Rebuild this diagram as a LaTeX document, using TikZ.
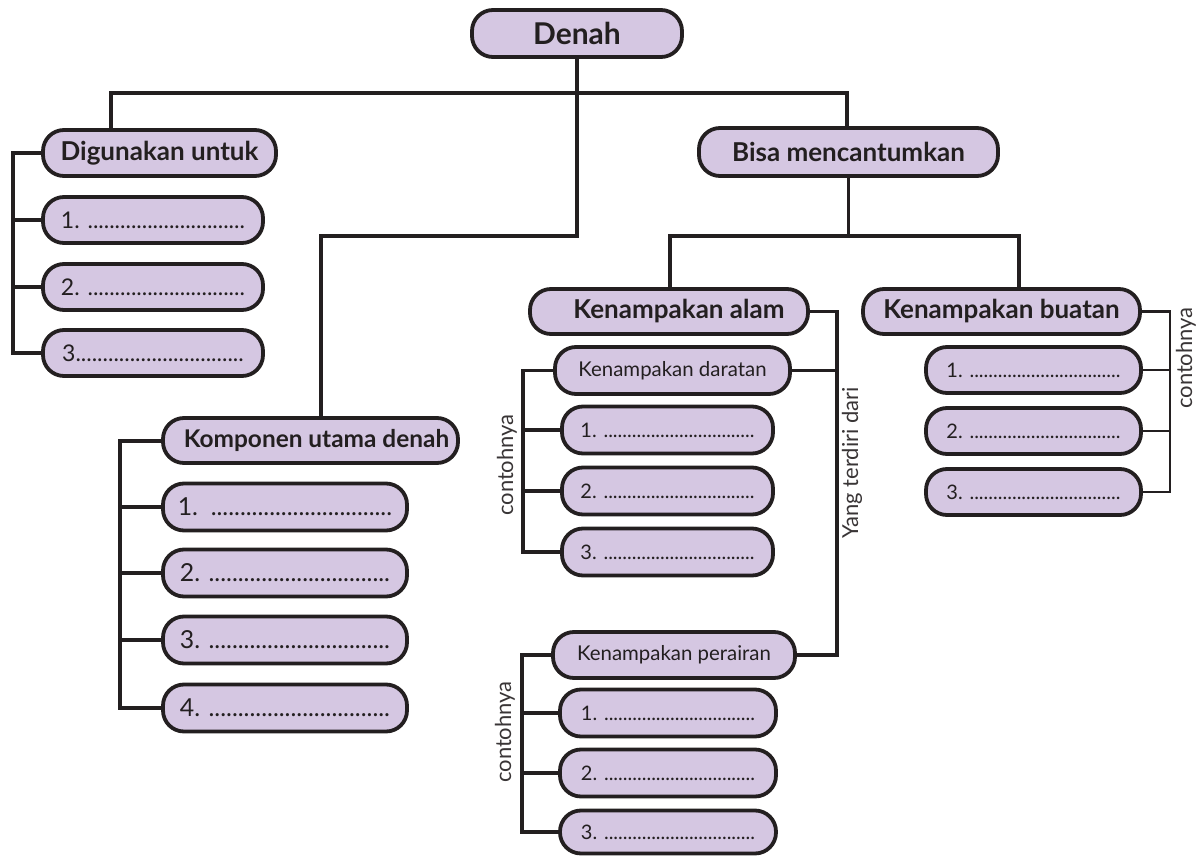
\documentclass[tikz,border=0pt]{standalone}
\usepackage{fontspec}
\setmainfont{Lato}
\usepackage{tikz}
\usetikzlibrary{calc}
\definecolor{lilac}{RGB}{213,199,226}
\definecolor{ink}{RGB}{35,31,32}
\begin{document}
\begin{tikzpicture}[x=0.5pt,y=-0.5pt,
  pill/.style={draw=ink,fill=lilac,line width=1.9pt,rounded corners=10.5pt,inner sep=0pt,text=ink},
  head/.style={pill,font=\fontsize{13}{15}\selectfont\bfseries},
  sub/.style={pill,font=\fontsize{10.2}{12}\selectfont},
  blank/.style={pill,font=\fontsize{10}{12}\selectfont},
  link/.style={draw=ink,line width=1.6pt},
  side/.style={font=\fontsize{11}{13}\selectfont,rotate=90,text=ink!90,inner sep=1pt}]
\useasboundingbox (0,0) rectangle (1200,856);
\node[head,minimum width=105pt,minimum height=23.5pt,font=\fontsize{15}{17}\selectfont\bfseries] (denah) at (577,33.5) {Denah};
\node[head,minimum width=116.5pt,minimum height=23pt] (guna) at (159.5,153) {Digunakan untuk};
\node[blank,minimum width=110pt,minimum height=23pt,font=\fontsize{11.5}{13}\selectfont] (guna1) at (153,220) {1. .............................};
\node[blank,minimum width=110pt,minimum height=23pt,font=\fontsize{11.5}{13}\selectfont] (guna2) at (153,287) {2. .............................};
\node[blank,minimum width=110pt,minimum height=23pt,font=\fontsize{11.5}{13}\selectfont] (guna3) at (153,353) {3...............................};
\node[head,minimum width=147.5pt,minimum height=22.5pt,font=\fontsize{12.2}{14}\selectfont\bfseries] (komp) at (310.5,440.5) {\hspace{6pt}Komponen utama denah};
\node[blank,minimum width=122pt,minimum height=23.5pt,font=\fontsize{12.4}{14}\selectfont] (komp1) at (285,507) {1.\ \ ...............................};
\node[blank,minimum width=122pt,minimum height=23.5pt,font=\fontsize{12.4}{14}\selectfont] (komp2) at (285,573) {2. ...............................};
\node[blank,minimum width=122pt,minimum height=23.5pt,font=\fontsize{12.4}{14}\selectfont] (komp3) at (285,640) {3. ...............................};
\node[blank,minimum width=122pt,minimum height=23.5pt,font=\fontsize{12.4}{14}\selectfont] (komp4) at (285,708) {4. ...............................};
\node[head,minimum width=149.5pt,minimum height=24pt] (bisa) at (848.5,152) {Bisa mencantumkan};
\node[head,minimum width=139pt,minimum height=22.5pt] (alam) at (669,311.5) {\hspace{10pt}Kenampakan alam};
\node[head,minimum width=138.5pt,minimum height=22.5pt] (buatan) at (1001.5,311.5) {Kenampakan buatan};
\node[sub,minimum width=117.5pt,minimum height=23.5pt] (darat) at (672.5,370.5) {Kenampakan daratan};
\node[blank,minimum width=105.5pt,minimum height=23.5pt] (darat1) at (667.5,430) {1. ................................};
\node[blank,minimum width=105.5pt,minimum height=23.5pt] (darat2) at (667.5,491) {2. ................................};
\node[blank,minimum width=105.5pt,minimum height=23.5pt] (darat3) at (667.5,552) {3. ................................};
\node[sub,minimum width=121pt,minimum height=23pt] (air) at (674,655) {Kenampakan perairan};
\node[blank,minimum width=108pt,minimum height=23.5pt] (air1) at (668,713) {1. ................................};
\node[blank,minimum width=108pt,minimum height=23.5pt] (air2) at (668,773) {2. ................................};
\node[blank,minimum width=108pt,minimum height=21.5pt] (air3) at (668,832) {3. ................................};
\node[blank,minimum width=107.5pt,minimum height=23pt] (buat1) at (1033.5,370) {1. ................................};
\node[blank,minimum width=107.5pt,minimum height=23pt] (buat2) at (1033.5,431) {2. ................................};
\node[blank,minimum width=107.5pt,minimum height=23pt] (buat3) at (1033.5,492) {3. ................................};
\node[side] (eg1) at (507,465) {contohnya};
\node[side] (eg2) at (505,732) {contohnya};
\node[side] (eg3) at (1186,358) {contohnya};
\node[side] (parts) at (852,463) {Yang terdiri dari};
\coordinate (tl) at (111,93);
\coordinate (tr) at (847,93);
\coordinate (kj) at (321,236);
\coordinate (bl) at (670,236);
\coordinate (br) at (1019,236);
\draw[link] (tl|-guna.north) -- (tl) -- (tr) -- (tr|-bisa.north);
\draw[link] (denah.south) |- (kj) -- (kj|-komp.north);
\draw[link] (bisa.south) -- (bisa.south|-bl);
\draw[link] (bl|-alam.north) -- (bl) -- (br) -- (br|-buatan.north);
\coordinate (gx) at (13,0);
\coordinate (kx) at (120,0);
\coordinate (dx) at (523,0);
\coordinate (wx) at (522,0);
\coordinate (ax) at (837,0);
\coordinate (bx) at (1170,0);
\draw[link] (guna.west) -- (guna.west-|gx) -- (guna3.west-|gx) -- (guna3.west);
\foreach \n in {guna1,guna2} \draw[link] (\n.west) -- (\n.west-|gx);
\draw[link,line width=2pt] (komp.west) -- (komp.west-|kx) -- (komp4.west-|kx) -- (komp4.west);
\foreach \n in {komp1,komp2,komp3} \draw[link,line width=2pt] (\n.west) -- (\n.west-|kx);
\draw[link] (darat.west) -- (darat.west-|dx) -- (darat3.west-|dx) -- (darat3.west);
\foreach \n in {darat1,darat2} \draw[link] (\n.west) -- (\n.west-|dx);
\draw[link] (air.west) -- (air.west-|wx) -- (air3.west-|wx) -- (air3.west);
\foreach \n in {air1,air2} \draw[link] (\n.west) -- (\n.west-|wx);
\draw[link] (alam.east) -- (alam.east-|ax) -- (air.east-|ax) -- (air.east);
\draw[link] (darat.east) -- (darat.east-|ax);
\draw[link,line width=1.2pt] (buatan.east) -- (buatan.east-|bx) -- (buat3.east-|bx) -- (buat3.east);
\foreach \n in {buat1,buat2} \draw[link,line width=1.2pt] (\n.east) -- (\n.east-|bx);
\end{tikzpicture}
\end{document}
